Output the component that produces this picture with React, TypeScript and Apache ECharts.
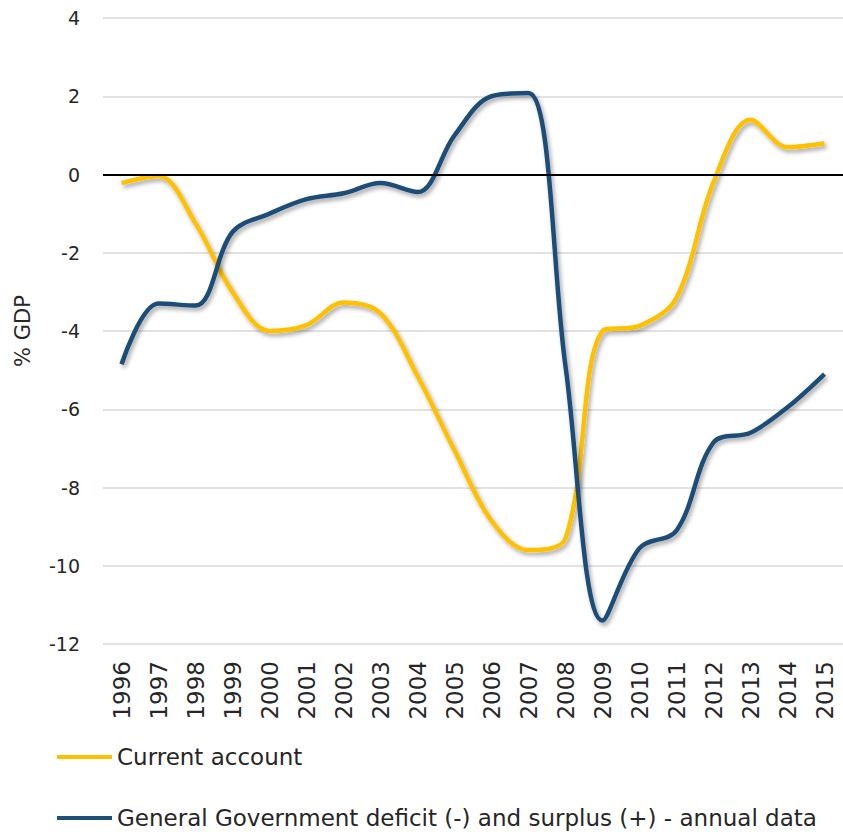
import React, { useEffect, useRef } from "react";
import * as echarts from "echarts";

const years = ["1996","1997","1998","1999","2000","2001","2002","2003","2004","2005","2006","2007","2008","2009","2010","2011","2012","2013","2014","2015"];
const currentAccount = [-0.22, -0.04, -1.25, -3.0, -4.0, -3.85, -3.27, -3.55, -5.15, -7.05, -8.85, -9.6, -9.3, -4.0, -3.87, -3.15, -0.2, 1.4, 0.7, 0.8];
const govBalance = [-4.85, -3.3, -3.35, -1.47, -1.0, -0.63, -0.48, -0.22, -0.45, 1.0, 2.0, 2.08, -4.9, -11.4, -9.55, -9.1, -6.85, -6.6, -5.95, -5.1];
const seriesNames = ["Current account", "General Government deficit (-) and surplus (+) - annual data"];
const yMin = -12;
const yMax = 4;
const yStep = 2;

const FONT = "DejaVu Sans";
const TEXT = "#262626";

export default function App() {
  const ref = useRef<HTMLDivElement>(null);
  useEffect(() => {
    document.body.style.margin = "0";
    const chart = echarts.init(ref.current!, null, { renderer: "svg" });
    const shadow = {
      shadowColor: "rgba(0,0,0,0.35)",
      shadowBlur: 4,
      shadowOffsetX: 2,
      shadowOffsetY: 3,
    };
    const legendBase = {
      orient: "horizontal",
      left: 52,
      itemWidth: 55,
      itemHeight: 4,
      icon: "rect",
      textStyle: { fontFamily: FONT, fontSize: 23, color: TEXT, lineHeight: 24 },
    };
    chart.setOption({
      animation: false,
      backgroundColor: "#ffffff",
      textStyle: { fontFamily: FONT },
      grid: { left: 103, right: 0, top: 18, bottom: 188, containLabel: false },
      legend: [
        { ...legendBase, top: 740, data: [seriesNames[0]] },
        { ...legendBase, top: 801, data: [seriesNames[1]] },
      ],
      xAxis: {
        type: "category",
        data: years,
        boundaryGap: true,
        axisLine: { show: false },
        axisTick: { show: false },
        axisLabel: { rotate: 90, fontSize: 23, color: TEXT, margin: 17, fontFamily: FONT },
      },
      yAxis: {
        type: "value",
        min: yMin,
        max: yMax,
        interval: yStep,
        name: "% GDP",
        nameLocation: "middle",
        nameRotate: 90,
        nameGap: 70,
        nameTextStyle: { fontSize: 21, color: TEXT, fontFamily: FONT },
        axisLine: { show: false },
        axisTick: { show: false },
        axisLabel: { fontSize: 19, color: TEXT, margin: 23, fontFamily: FONT },
        splitLine: { lineStyle: { color: "#D9D9D9", width: 1.5 } },
      },
      series: [
        {
          name: seriesNames[0],
          type: "line",
          data: currentAccount,
          smooth: 0.35,
          showSymbol: false,
          symbol: "none",
          itemStyle: { color: "#FFC000" },
          lineStyle: { color: "#FFC000", width: 4.5, ...shadow },
          markLine: {
            silent: true,
            symbol: "none",
            label: { show: false },
            lineStyle: { color: "#000000", type: "solid", width: 2 },
            data: [{ yAxis: 0 }],
          },
          z: 3,
        },
        {
          name: seriesNames[1],
          type: "line",
          data: govBalance,
          smooth: 0.35,
          showSymbol: false,
          symbol: "none",
          itemStyle: { color: "#1F4E79" },
          lineStyle: { color: "#1F4E79", width: 4.5, ...shadow },
          z: 4,
        },
      ],
    });
    return () => chart.dispose();
  }, []);
  return <div ref={ref} style={{ width: 843, height: 832 }} />;
}
